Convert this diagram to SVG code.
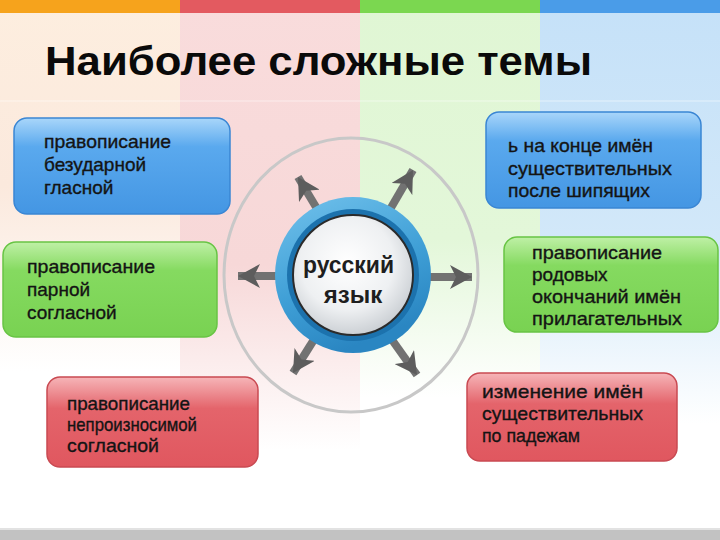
<svg xmlns="http://www.w3.org/2000/svg" width="720" height="540" viewBox="0 0 720 540">
<defs>
<linearGradient id="bgO" x1="0" y1="0" x2="0" y2="1"><stop offset="0" stop-color="#fdeedf"/><stop offset="0.35" stop-color="#fbe9dd"/><stop offset="0.7" stop-color="#ffffff"/></linearGradient>
<linearGradient id="bgR" x1="0" y1="0" x2="0" y2="1"><stop offset="0" stop-color="#f9dcdc"/><stop offset="0.5" stop-color="#f7d8d8"/><stop offset="0.85" stop-color="#ffffff"/></linearGradient>
<linearGradient id="bgG" x1="0" y1="0" x2="0" y2="1"><stop offset="0" stop-color="#e0f6d4"/><stop offset="0.45" stop-color="#e3f7d9"/><stop offset="0.75" stop-color="#ffffff"/></linearGradient>
<linearGradient id="bgB" x1="0" y1="0" x2="0" y2="1"><stop offset="0" stop-color="#c5e1f8"/><stop offset="0.45" stop-color="#d2e8f9"/><stop offset="0.8" stop-color="#ffffff"/></linearGradient>
<linearGradient id="gBlue" x1="0" y1="0" x2="0" y2="1"><stop offset="0" stop-color="#a9d6fa"/><stop offset="0.3" stop-color="#5aa9ee"/><stop offset="1" stop-color="#4496e3"/></linearGradient>
<linearGradient id="gGreen" x1="0" y1="0" x2="0" y2="1"><stop offset="0" stop-color="#bff0a6"/><stop offset="0.3" stop-color="#85da60"/><stop offset="1" stop-color="#79d252"/></linearGradient>
<linearGradient id="gRed" x1="0" y1="0" x2="0" y2="1"><stop offset="0" stop-color="#f6b5b8"/><stop offset="0.35" stop-color="#e4646b"/><stop offset="1" stop-color="#e0575f"/></linearGradient>
<linearGradient id="ring" x1="0" y1="0" x2="0.4" y2="1"><stop offset="0" stop-color="#72c2ec"/><stop offset="0.6" stop-color="#3f9fd6"/><stop offset="1" stop-color="#2a86c2"/></linearGradient>
<radialGradient id="inner" cx="0.45" cy="0.4" r="0.65"><stop offset="0" stop-color="#ffffff"/><stop offset="0.6" stop-color="#eef0f2"/><stop offset="1" stop-color="#c4c9ce"/></radialGradient>
<marker id="ah" markerUnits="userSpaceOnUse" markerWidth="26" markerHeight="24" refX="22" refY="12" orient="auto" viewBox="0 0 26 24"><path d="M22 12 L0 0 L6 12 L0 24 Z" fill="#5d5d5d"/></marker>
<style>
.t{font-family:"Liberation Sans",Arial,sans-serif;font-size:19px;fill:#141414;stroke:#141414;stroke-width:0.35}
.title{font-family:"Liberation Sans",Arial,sans-serif;font-size:40px;font-weight:bold;fill:#0a0a0a}
.c{font-family:"Liberation Sans",Arial,sans-serif;font-size:24px;font-weight:bold;fill:#1e1e1e}
.arr{stroke:#727272;stroke-width:8;marker-end:url(#ah);fill:none}
.bb{stroke:#3a86d4;stroke-width:1.5}
.bg{stroke:#68c444;stroke-width:1.5}
.br{stroke:#c94a52;stroke-width:1.5}
</style>
</defs>
<g id="background">
<rect x="0" y="0" width="180" height="530" fill="url(#bgO)"/>
<rect x="180" y="0" width="180" height="530" fill="url(#bgR)"/>
<rect x="360" y="0" width="180" height="530" fill="url(#bgG)"/>
<rect x="540" y="0" width="180" height="530" fill="url(#bgB)"/>
<rect x="0" y="0" width="180" height="13" fill="#f6a31c"/>
<rect x="180" y="0" width="180" height="13" fill="#e35a60"/>
<rect x="360" y="0" width="180" height="13" fill="#7bd750"/>
<rect x="540" y="0" width="180" height="13" fill="#4a9ce8"/>
<rect x="0" y="100" width="720" height="2" fill="#ffffff" opacity="0.25"/>
<rect x="0" y="528" width="720" height="2" fill="#e2e2e2"/>
<rect x="0" y="530" width="720" height="10" fill="#c2c2c2"/>
</g>
<text class="title" x="45" y="75" textLength="547" lengthAdjust="spacingAndGlyphs">Наиболее сложные темы</text>
<ellipse id="orbit" cx="351" cy="275" rx="127" ry="137" fill="none" stroke="#c8c8c8" stroke-width="3"/>
<g id="connectors">
<line class="arr" x1="325" y1="222" x2="298" y2="177"/>
<line class="arr" x1="385" y1="218" x2="413" y2="170"/>
<line class="arr" x1="290" y1="276" x2="238" y2="276"/>
<line class="arr" x1="415" y1="277" x2="472" y2="277"/>
<line class="arr" x1="320" y1="330" x2="293" y2="373"/>
<line class="arr" x1="385" y1="330" x2="417" y2="375"/>
</g>
<g id="center">
<circle cx="353" cy="275" r="78" fill="url(#ring)"/>
<circle cx="353" cy="275" r="66" fill="#1c72ad"/>
<circle cx="353" cy="275" r="60" fill="url(#inner)" stroke="#2b2b2b" stroke-width="2"/>
<text class="c" x="303" y="273" textLength="91" lengthAdjust="spacingAndGlyphs">русский</text>
<text class="c" x="353" y="303" text-anchor="middle">язык</text>
</g>
<g id="n1">
<rect x="14" y="118" width="216" height="96" rx="13" fill="url(#gBlue)" class="bb"/>
<text class="t" x="44" y="148" textLength="127" lengthAdjust="spacingAndGlyphs">правописание</text>
<text class="t" x="44" y="171">безударной</text>
<text class="t" x="44" y="194">гласной</text>
</g>
<g id="n2">
<rect x="3" y="242" width="214" height="95" rx="13" fill="url(#gGreen)" class="bg"/>
<text class="t" x="27" y="273" textLength="128" lengthAdjust="spacingAndGlyphs">правописание</text>
<text class="t" x="27" y="296">парной</text>
<text class="t" x="27" y="319">согласной</text>
</g>
<g id="n3">
<rect x="47" y="377" width="211" height="90" rx="13" fill="url(#gRed)" class="br"/>
<text class="t" x="67" y="410" textLength="123" lengthAdjust="spacingAndGlyphs">правописание</text>
<text class="t" x="67" y="431" textLength="130" lengthAdjust="spacingAndGlyphs">непроизносимой</text>
<text class="t" x="67" y="452" textLength="92" lengthAdjust="spacingAndGlyphs">согласной</text>
</g>
<g id="n4">
<rect x="486" y="112" width="215" height="96" rx="13" fill="url(#gBlue)" class="bb"/>
<text class="t" x="508" y="152" textLength="145" lengthAdjust="spacingAndGlyphs">ь на конце имён</text>
<text class="t" x="508" y="175" textLength="164" lengthAdjust="spacingAndGlyphs">существительных</text>
<text class="t" x="508" y="197" textLength="142" lengthAdjust="spacingAndGlyphs">после шипящих</text>
</g>
<g id="n5">
<rect x="504" y="237" width="214" height="95" rx="13" fill="url(#gGreen)" class="bg"/>
<text class="t" x="532" y="259" textLength="130" lengthAdjust="spacingAndGlyphs">правописание</text>
<text class="t" x="532" y="281">родовых</text>
<text class="t" x="532" y="303" textLength="149" lengthAdjust="spacingAndGlyphs">окончаний имён</text>
<text class="t" x="532" y="325" textLength="150" lengthAdjust="spacingAndGlyphs">прилагательных</text>
</g>
<g id="n6">
<rect x="467" y="373" width="210" height="88" rx="13" fill="url(#gRed)" class="br"/>
<text class="t" x="482" y="398" textLength="161" lengthAdjust="spacingAndGlyphs">изменение имён</text>
<text class="t" x="482" y="420" textLength="161" lengthAdjust="spacingAndGlyphs">существительных</text>
<text class="t" x="482" y="442" textLength="98" lengthAdjust="spacingAndGlyphs">по падежам</text>
</g>
</svg>
